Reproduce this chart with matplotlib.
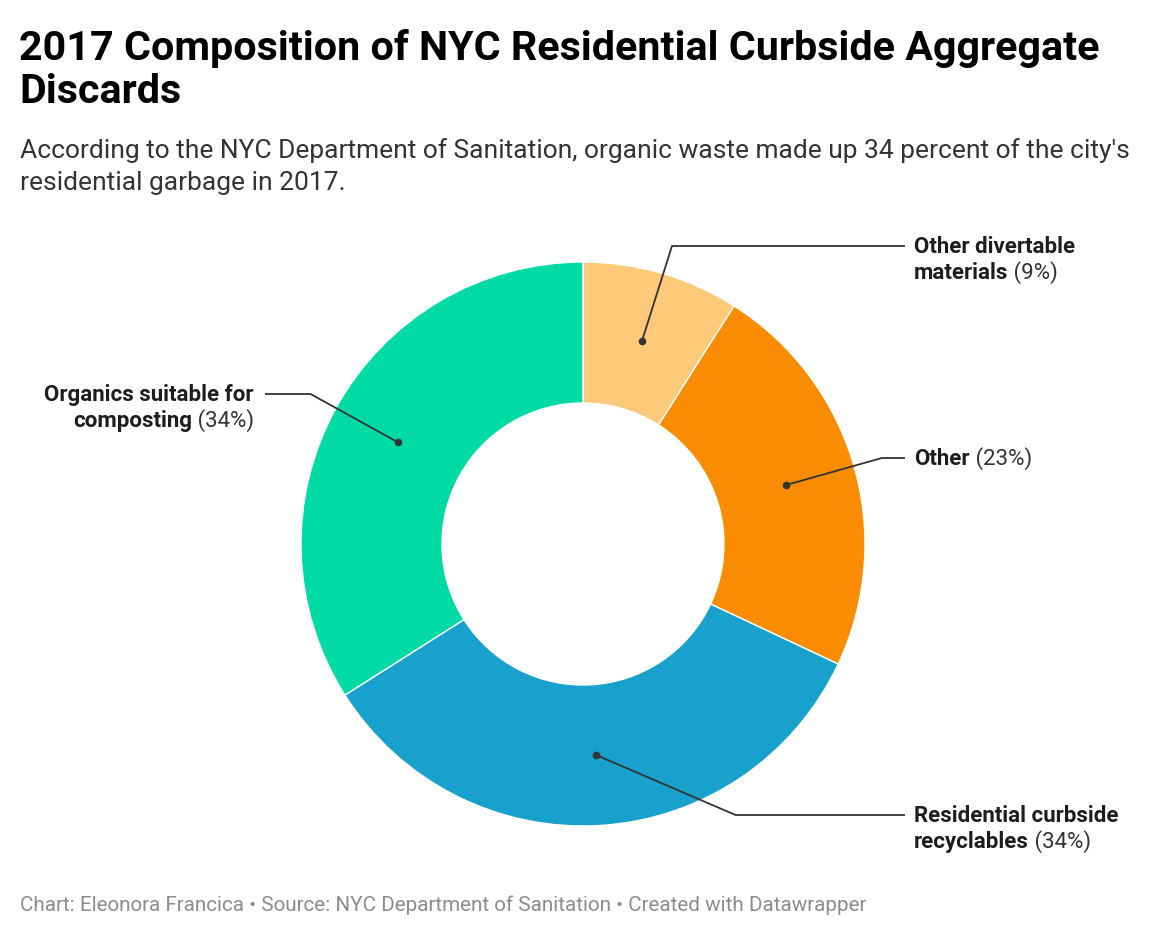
import numpy as np
import matplotlib
matplotlib.use("Agg")
import matplotlib.pyplot as plt

plt.rcParams['font.family'] = ['Roboto', 'DejaVu Sans']

# data
labels_bold = [["Other divertable", "materials"],
               ["Other"],
               ["Residential curbside", "recyclables"],
               ["Organics suitable for", "composting"]]
shares = [9, 23, 34, 34]
colors = ["#fec979", "#f98c00", "#19a1cd", "#00dba6"]

title = ["2017 Composition of NYC Residential Curbside Aggregate", "Discards"]
subtitle = ["According to the NYC Department of Sanitation, organic waste made up 34 percent of the city's",
            "residential garbage in 2017."]
footer = "Chart: Eleonora Francica \u2022 Source: NYC Department of Sanitation \u2022 Created with Datawrapper"

# layout (pixels, y measured from top)
W, H = 1168, 936
cx, cy = 583, 544
r_out, r_in = 282, 141
r_elbow = 311
label_y = [246, 458, 815, 394]      # first label line, per slice
line_end_right, line_end_left = 905, 265
text_right, text_left = 914, 254
dark = "#333333"

fig = plt.figure(figsize=(W / 100, H / 100), dpi=100)
ax = fig.add_axes([0, 0, 1, 1])
ax.set_xlim(0, W)
ax.set_ylim(0, H)
ax.set_aspect('equal')
ax.axis('off')

def Y(py):
    return H - py

ax.pie(shares, colors=colors, startangle=90, counterclock=False,
       radius=r_out, center=(cx, Y(cy)),
       wedgeprops=dict(width=r_out - r_in, edgecolor='white', linewidth=1))
ax.set_xlim(0, W)
ax.set_ylim(0, H)

fig.canvas.draw()
renderer = fig.canvas.get_renderer()

def text_width(t):
    bb = t.get_window_extent(renderer=renderer)
    return bb.width

fs_lab = 16
cum = np.cumsum([0] + shares)
total = float(sum(shares))
for i, v in enumerate(shares):
    mid = (cum[i] + v / 2) / total * 2 * np.pi   # clockwise from top
    r_mid = (r_out + r_in) / 2
    dx, dy = r_mid * np.sin(mid), -r_mid * np.cos(mid)
    px, py = cx + dx, cy + dy
    ly = label_y[i]
    ey = ly - cy
    ex = np.sqrt(max(r_elbow ** 2 - ey ** 2, 0))
    right = np.sin(mid) >= 0
    if not right:
        ex = -ex
    ex += cx
    xend = line_end_right if right else line_end_left
    ax.plot([px, ex, xend], [Y(py), Y(ly), Y(ly)], color=dark, lw=1.3,
            solid_capstyle='butt', zorder=5)
    ax.scatter([px], [Y(py)], s=30, color=dark, zorder=6, linewidths=0)

    lines = labels_bold[i]
    pct = f" ({v}%)"
    for j, ln in enumerate(lines):
        yy = Y(ly + 1 + j * 26)
        last = j == len(lines) - 1
        if right:
            t = ax.text(text_right, yy, ln, fontsize=fs_lab, fontweight='bold',
                        color="#1d1d1d", ha='left', va='center')
            if last:
                w = text_width(t)
                ax.text(text_right + w, yy, pct, fontsize=fs_lab, color="#333333",
                        ha='left', va='center')
        else:
            if last:
                t2 = ax.text(text_left, yy, pct, fontsize=fs_lab, color="#333333",
                             ha='right', va='center')
                w = text_width(t2)
                ax.text(text_left - w, yy, ln, fontsize=fs_lab, fontweight='bold',
                        color="#1d1d1d", ha='right', va='center')
            else:
                ax.text(text_left, yy, ln, fontsize=fs_lab, fontweight='bold',
                        color="#1d1d1d", ha='right', va='center')

for k, s in enumerate(title):
    ax.text(19, Y(60 + 43 * k), s, fontsize=29.7, fontweight='bold', color='black',
            ha='left', va='baseline')
for k, s in enumerate(subtitle):
    ax.text(20, Y(158 + 32 * k), s, fontsize=19, color="#333333",
            ha='left', va='baseline')
ax.text(20, Y(911), footer, fontsize=14.9, color="#8c8c8c", ha='left', va='baseline')

fig.savefig("out.png", dpi=100)
